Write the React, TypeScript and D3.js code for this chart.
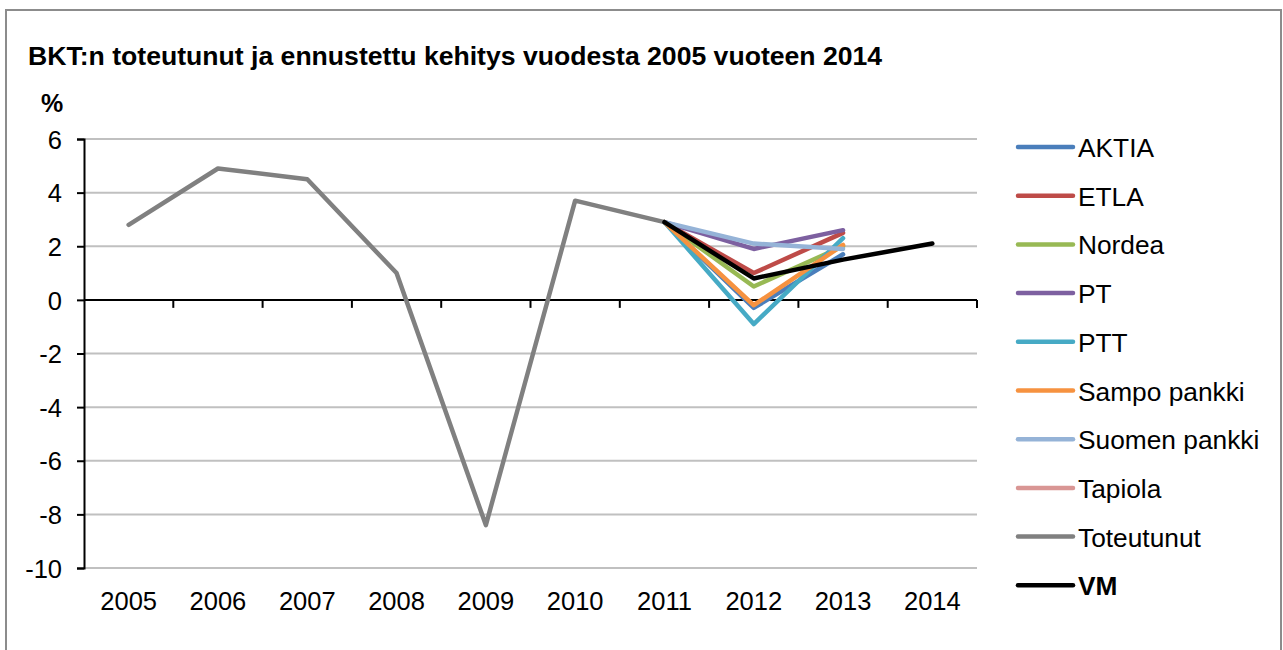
import React, { useEffect, useRef } from 'react';
import * as d3 from 'd3';

const years = ['2005', '2006', '2007', '2008', '2009', '2010', '2011', '2012', '2013', '2014'];
const yTicks = [6, 4, 2, 0, -2, -4, -6, -8, -10];

const seriesNames = ['AKTIA', 'ETLA', 'Nordea', 'PT', 'PTT', 'Sampo pankki', 'Suomen pankki', 'Tapiola', 'Toteutunut', 'VM'];
const seriesColors = ['#4a7ebb', '#be4b48', '#98b954', '#7d60a0', '#46aac5', '#f69240', '#95b3d7', '#d99694', '#808080', '#000000'];

// values per year, null = no value
const aktia = [null, null, null, null, null, null, 2.9, -0.3, 1.7, null];
const etla = [null, null, null, null, null, null, 2.9, 1.0, 2.5, null];
const nordea = [null, null, null, null, null, null, 2.9, 0.5, 2.0, null];
const pt = [null, null, null, null, null, null, 2.9, 1.9, 2.6, null];
const ptt = [null, null, null, null, null, null, 2.9, -0.9, 2.3, null];
const sampo = [null, null, null, null, null, null, 2.9, -0.2, 2.05, null];
const suomenPankki = [null, null, null, null, null, null, 2.9, 2.1, 1.9, null];
const tapiola = [null, null, null, null, null, null, null, null, null, null];
const toteutunut = [2.8, 4.9, 4.5, 1.0, -8.4, 3.7, 2.9, null, null, null];
const vm = [null, null, null, null, null, null, 2.9, 0.8, 1.5, 2.1];

const seriesValues = [aktia, etla, nordea, pt, ptt, sampo, suomenPankki, tapiola, toteutunut, vm];

const App: React.FC = () => {
    const svgRef = useRef<SVGSVGElement | null>(null);

    useEffect(() => {
        const width = 1283;
        const height = 650;
        const plot = { left: 84, right: 977, top: 139, bottom: 568 };
        const font = 'Arial, "Liberation Sans", sans-serif';

        const svg = d3.select(svgRef.current)
            .attr('width', width)
            .attr('height', height);
        svg.selectAll('*').remove();

        svg.append('rect')
            .attr('width', width).attr('height', height).attr('fill', '#fff');

        // outer frame
        svg.append('rect')
            .attr('x', 6).attr('y', 10)
            .attr('width', 1275).attr('height', 660)
            .attr('fill', 'none')
            .attr('stroke', '#8c8c8c')
            .attr('stroke-width', 2);

        svg.append('text')
            .attr('x', 28).attr('y', 65)
            .attr('font-family', font)
            .attr('font-weight', 'bold')
            .attr('font-size', 26.6)
            .text('BKT:n toteutunut ja ennustettu kehitys vuodesta 2005 vuoteen 2014');

        svg.append('text')
            .attr('x', 41).attr('y', 112)
            .attr('font-family', font)
            .attr('font-weight', 'bold')
            .attr('font-size', 25)
            .text('%');

        const x = d3.scaleBand<string>()
            .domain(years)
            .range([plot.left, plot.right]);

        const y = d3.scaleLinear()
            .domain([-10, 6])
            .range([plot.bottom, plot.top]);

        // gridlines
        svg.append('g')
            .selectAll('line')
            .data(yTicks.filter(t => t !== 0))
            .enter()
            .append('line')
            .attr('x1', plot.left).attr('x2', plot.right)
            .attr('y1', d => y(d)).attr('y2', d => y(d))
            .attr('stroke', '#c0c0c0')
            .attr('stroke-width', 2);

        // y axis
        const yAxis = svg.append('g')
            .attr('transform', `translate(${plot.left},0)`)
            .call(d3.axisLeft(y).tickValues(yTicks).tickSize(7).tickPadding(15).tickFormat(d3.format('d')));
        yAxis.select('.domain').attr('stroke', '#000').attr('stroke-width', 2);
        yAxis.selectAll('.tick line').attr('stroke', '#000').attr('stroke-width', 2);
        yAxis.selectAll('.tick text')
            .attr('font-family', font)
            .attr('font-size', 25.5)
            .attr('fill', '#000')
            .attr('dy', '0.36em')
            .text(d => String(d));

        // x axis at zero, ticks at band boundaries
        svg.append('line')
            .attr('x1', plot.left).attr('x2', plot.right)
            .attr('y1', y(0)).attr('y2', y(0))
            .attr('stroke', '#000')
            .attr('stroke-width', 2);

        svg.append('g')
            .selectAll('line')
            .data(years)
            .enter()
            .append('line')
            .attr('x1', d => (x(d) as number) + x.bandwidth())
            .attr('x2', d => (x(d) as number) + x.bandwidth())
            .attr('y1', y(0)).attr('y2', y(0) + 8)
            .attr('stroke', '#000')
            .attr('stroke-width', 2);

        svg.append('g')
            .selectAll('text')
            .data(years)
            .enter()
            .append('text')
            .attr('x', d => (x(d) as number) + x.bandwidth() / 2)
            .attr('y', 610)
            .attr('text-anchor', 'middle')
            .attr('font-family', font)
            .attr('font-size', 25.5)
            .text(d => d);

        // series lines
        const line = d3.line<number | null>()
            .defined(d => d !== null)
            .x((_, i) => (x(years[i]) as number) + x.bandwidth() / 2)
            .y(d => y(d as number));

        svg.append('g')
            .selectAll('path')
            .data(seriesValues)
            .enter()
            .append('path')
            .attr('d', d => line(d) || '')
            .attr('fill', 'none')
            .attr('stroke', (_, i) => seriesColors[i])
            .attr('stroke-width', 4.5)
            .attr('stroke-linejoin', 'round')
            .attr('stroke-linecap', 'round');

        // legend
        const legend = svg.append('g')
            .attr('transform', 'translate(1018, 147)');

        const legends = legend.selectAll('.legend')
            .data(seriesNames)
            .enter()
            .append('g')
            .attr('class', 'legend')
            .attr('transform', (_, i) => `translate(0, ${i * 48.7})`);

        legends.append('line')
            .attr('x1', 0).attr('x2', 55)
            .attr('y1', 0).attr('y2', 0)
            .attr('stroke', (_, i) => seriesColors[i])
            .attr('stroke-width', 4.5)
            .attr('stroke-linecap', 'round');

        legends.append('text')
            .attr('x', 60)
            .attr('y', 10)
            .attr('font-family', font)
            .attr('font-size', 26.3)
            .attr('font-weight', d => (d === 'VM' ? 'bold' : 'normal'))
            .text(d => d);
    }, []);

    return (
        <svg ref={svgRef} style={{ position: 'absolute', left: 0, top: 0, display: 'block' }}></svg>
    );
};

export default App;
